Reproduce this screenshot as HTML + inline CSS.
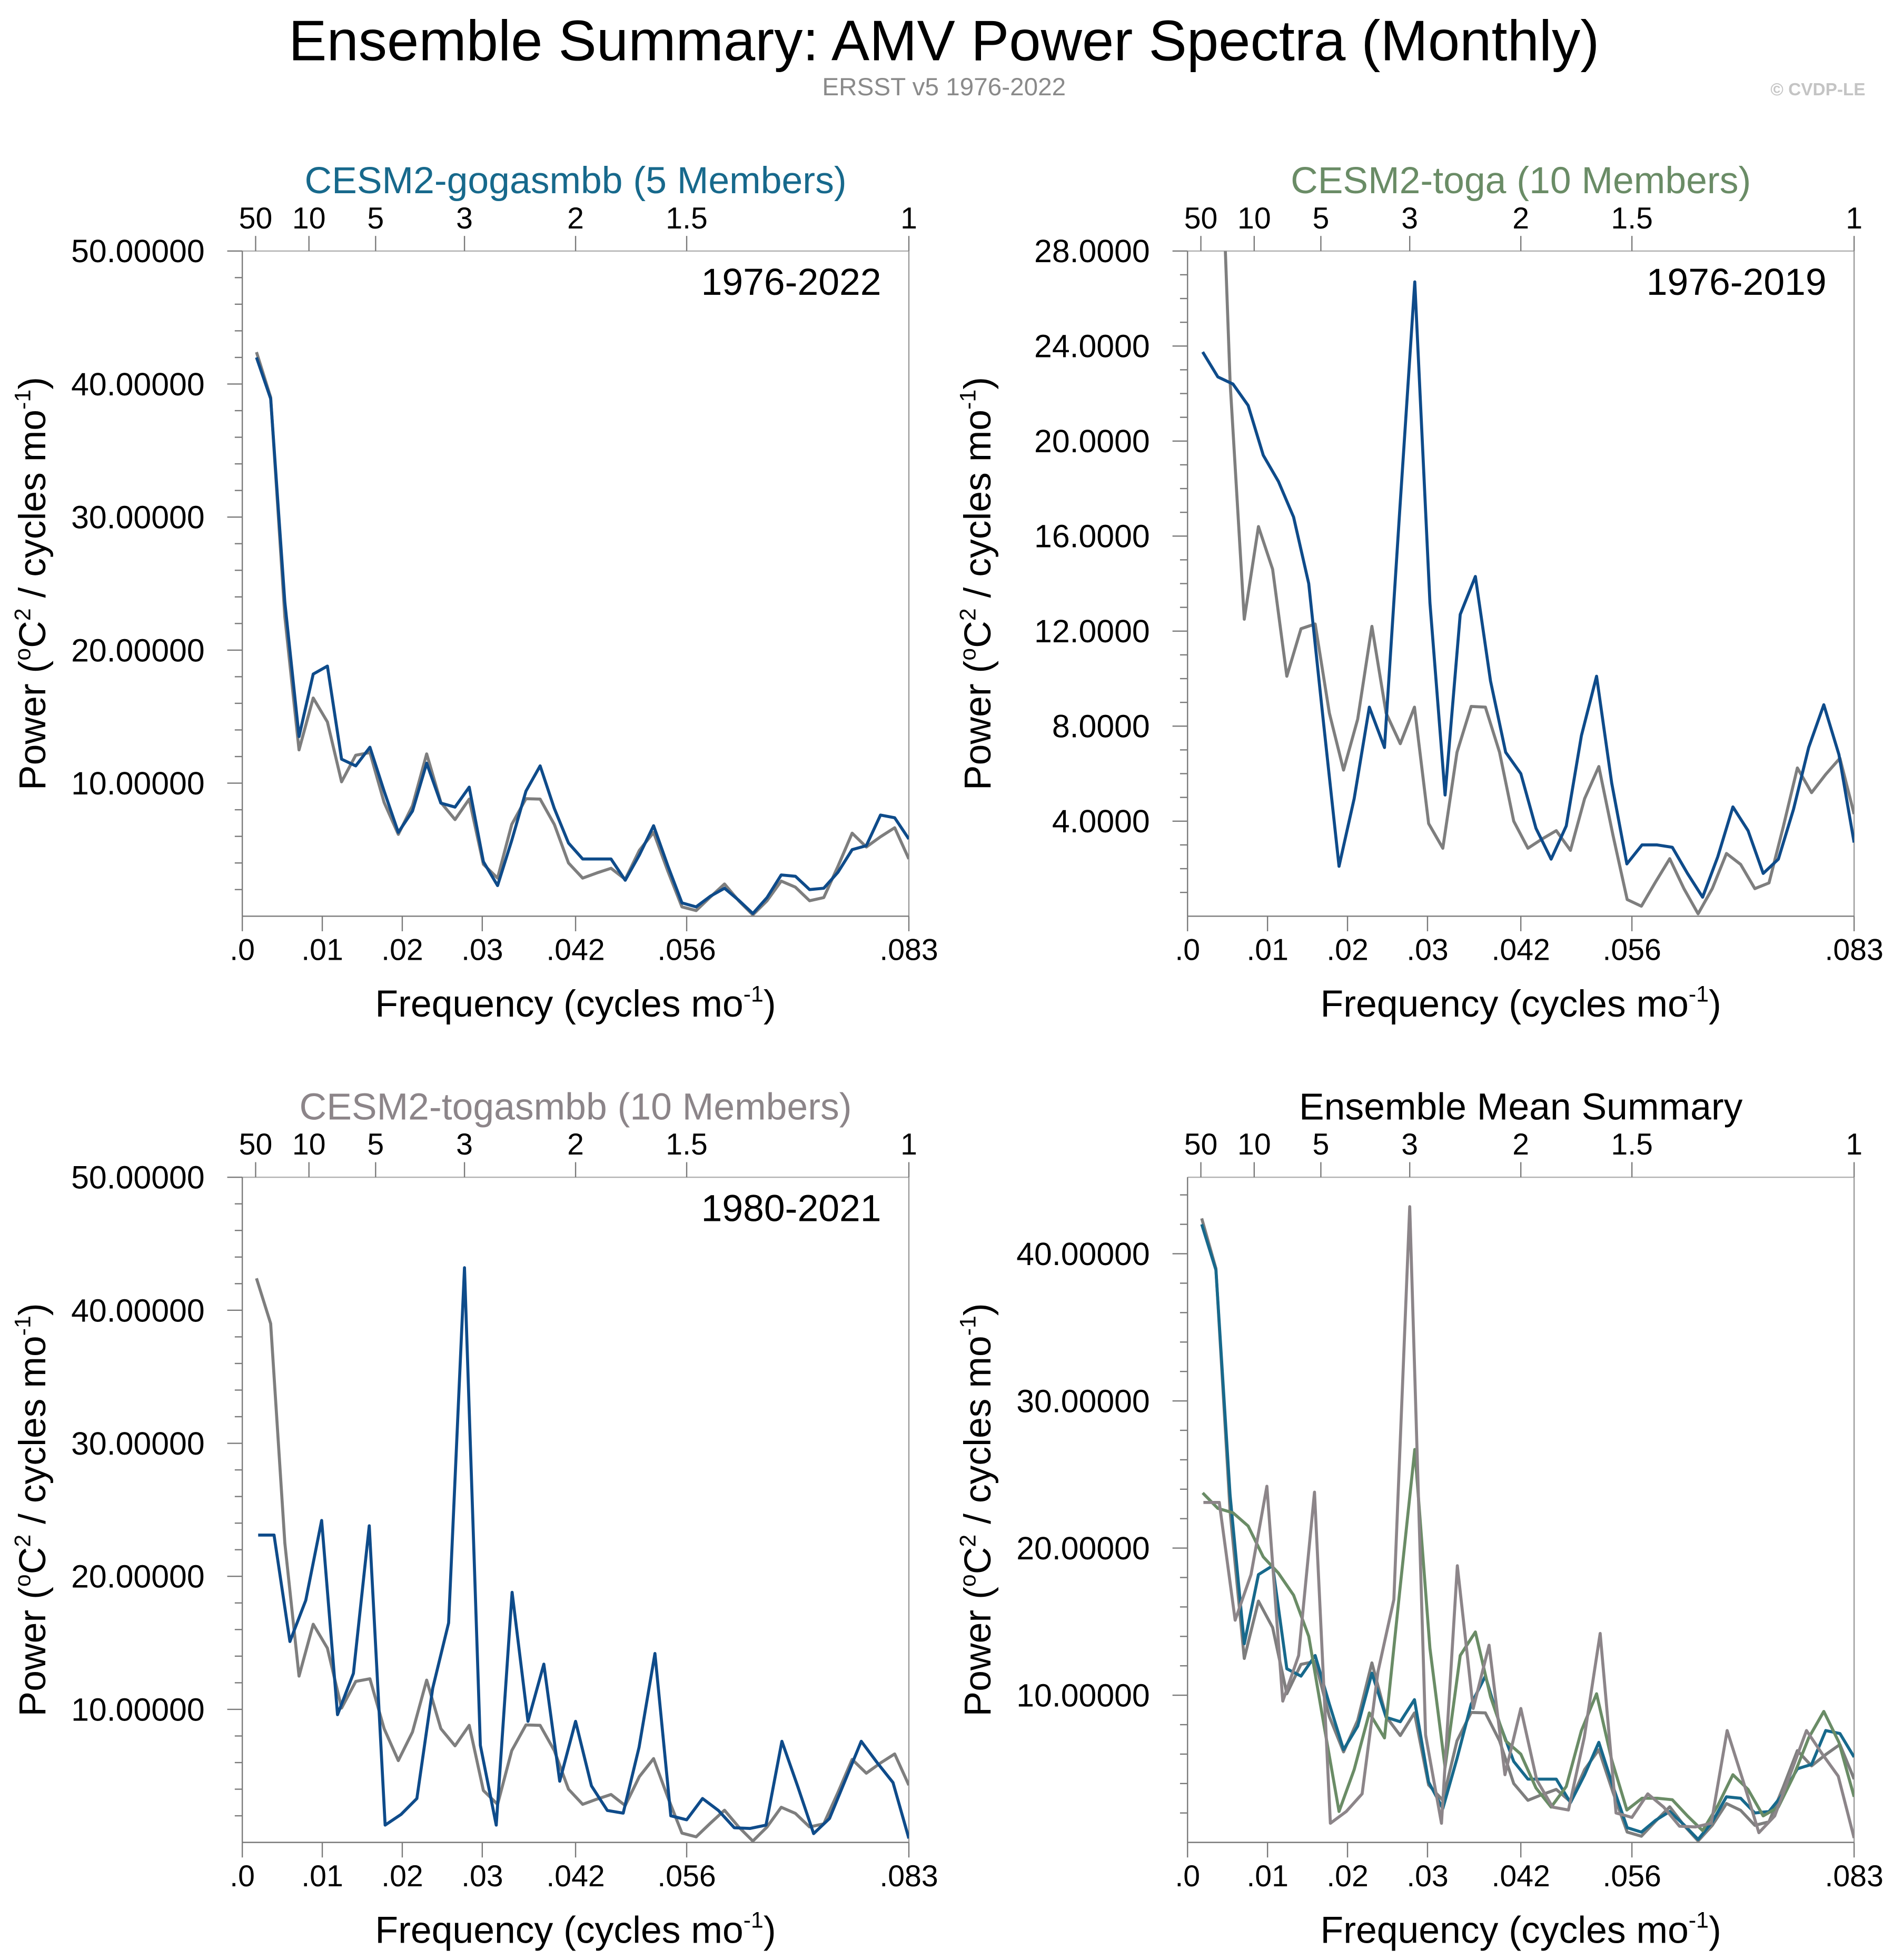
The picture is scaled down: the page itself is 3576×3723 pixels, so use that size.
<!DOCTYPE html>
<html><head><meta charset="utf-8"><title>AMV Power Spectra</title>
<style>
html,body{margin:0;padding:0;background:#fff;}
svg{display:block;font-family:"Liberation Sans",Arial,sans-serif;}
</style></head>
<body>
<svg id="fig" width="3576" height="3723" viewBox="0 0 1500 1561.7" xmlns="http://www.w3.org/2000/svg">
<rect x="0" y="0" width="1500" height="1561.7" fill="#fff"/>
<text x="752" y="48" font-size="45.5" text-anchor="middle" fill="#000">Ensemble Summary: AMV Power Spectra (Monthly)</text>
<text x="752" y="76" font-size="20" text-anchor="middle" fill="#8a8a8a">ERSST v5 1976-2022</text>
<text x="1486" y="76" font-size="14" font-weight="bold" text-anchor="end" fill="#c4c4c4">© CVDP-LE</text>
</svg>
<script>
// ---- data ----
const obsPower = [42.4,39.0,22.5,12.5,16.4,14.6,10.1,12.1,12.3,8.55,6.15,8.3,12.2,8.55,7.26,8.8,3.9,2.86,6.9,8.83,8.8,6.9,4.0,2.86,3.25,3.6,2.77,4.95,6.3,3.4,0.7,0.42,1.44,2.42,1.16,0.1,1.16,2.64,2.18,1.16,1.4,3.75,6.24,5.2,5.97,6.65,4.3];
const gogaPower = [42.0,38.9,23.6,13.5,18.2,18.8,11.8,11.3,12.7,9.4,6.3,7.9,11.5,8.5,8.2,9.7,4.1,2.3,5.7,9.4,11.3,8.1,5.5,4.3,4.3,4.3,2.7,4.6,6.8,3.8,1.0,0.7,1.5,2.1,1.2,0.2,1.4,3.1,3.0,2.0,2.1,3.3,5.0,5.3,7.6,7.4,5.8];
const togaPower = [23.75,22.7,22.4,21.5,19.4,18.3,16.8,14.0,8.0,2.1,4.95,8.8,7.1,17.0,26.7,13.2,5.1,12.7,14.3,9.9,6.9,6.0,3.7,2.4,3.8,7.6,10.1,5.6,2.2,3.0,3.0,2.9,1.8,0.8,2.5,4.6,3.6,1.8,2.4,4.5,7.1,8.9,6.8,3.1];
const togasmbbPower = [23.1,23.1,15.1,18.2,24.2,9.6,12.7,23.8,1.3,2.1,3.3,11.6,16.5,43.2,7.3,1.3,18.8,9.1,13.4,4.6,9.1,4.25,2.4,2.2,7.15,14.2,2.0,1.7,3.3,2.4,1.1,1.05,1.3,7.6,4.2,0.66,1.8,4.7,7.6,6.0,4.5,0.3];
const obsYears = 47, gogaYears = 47, togaYears = 44, togasmbbYears = 42;
const periodLabels = ["50","10","5","3","2","1.5","1"];
const periodYears = [50,10,5,3,2,1.5,1];
const freqTickLabels = [".0",".01",".02",".03",".042",".056",".083"];
const freqTickValues = [0,0.01,0.02,0.03,1/24,1/18,1/12];

const NS = "http://www.w3.org/2000/svg";
const svg = document.getElementById('fig');
const FMAX = 1/12;
function mk(tag, attrs, parent){
  const e = document.createElementNS(NS, tag);
  for (const k in attrs) e.setAttribute(k, attrs[k]);
  (parent||svg).appendChild(e);
  return e;
}
function freqs(n, years){ const a=[]; for(let i=1;i<=n;i++) a.push(i/(years*12)); return a; }

function panel(cfg){
  const {id,L,R,T,B,ymax,major,minor,fmt,title,titleColor,dateLabel,series} = cfg;
  const g = mk('g',{});
  
  
  const xS = f => L + (R-L)*f/FMAX;
  const yS = v => B - (B-T)*v/ymax;
  const cp = mk('clipPath',{id:id+'-clip'},g);
  mk('rect',{x:L,y:T,width:R-L,height:B-T},cp);
  const ax = mk('g',{},g);
  
  
  mk('line',{x1:L,y1:T,x2:R,y2:T,stroke:'#b0b0b0','stroke-width':1},ax);
  mk('line',{x1:R,y1:T,x2:R,y2:B,stroke:'#9a9a9a','stroke-width':1},ax);
  mk('line',{x1:L,y1:T,x2:L,y2:B,stroke:'#7a7a7a','stroke-width':1},ax);
  mk('line',{x1:L,y1:B,x2:R,y2:B,stroke:'#7a7a7a','stroke-width':1},ax);
  for (let v=minor; v<=ymax+1e-6; v+=minor){
    const isMajor = Math.abs(v/major - Math.round(v/major))<1e-6;
    const y = yS(v);
    mk('line',{x1:L-(isMajor?12:6),y1:y,x2:L,y2:y,stroke:'#7a7a7a','stroke-width':1},ax);
    if (isMajor){
      const t = mk('text',{x:L-30,y:y+9,'font-size':25.5,'text-anchor':'end',fill:'#000'},g);
      
      
      t.textContent = v.toFixed(fmt);
    }
  }
  freqTickValues.forEach((f,i)=>{
    const x = xS(f);
    mk('line',{x1:x,y1:B,x2:x,y2:B+12,stroke:'#7a7a7a','stroke-width':1},ax);
    const t = mk('text',{x:x,y:B+35,'font-size':24,'text-anchor':'middle',fill:'#000'},g);
    
    
    t.textContent = freqTickLabels[i];
  });
  periodYears.forEach((p,i)=>{
    const x = xS(1/(p*12));
    mk('line',{x1:x,y1:T,x2:x,y2:T-12,stroke:'#7a7a7a','stroke-width':1},ax);
    const t = mk('text',{x:x,y:T-18,'font-size':24,'text-anchor':'middle',fill:'#000'},g);
    
    
    t.textContent = periodLabels[i];
  });
  const tt = mk('text',{x:(L+R)/2,y:T-46,'font-size':30,'text-anchor':'middle',fill:titleColor},g);
  
  
  tt.textContent = title;
  if (dateLabel){
    const d = mk('text',{x:R-22,y:T+35,'font-size':30,'text-anchor':'end',fill:'#000'},g);
    
    
    d.textContent = dateLabel;
  }
  const xt = mk('text',{x:(L+R)/2,y:B+80,'font-size':30,'text-anchor':'middle',fill:'#000'},g);
  
  
  xt.innerHTML = 'Frequency (cycles mo<tspan dy="-12" font-size="18">-1</tspan><tspan dy="12">)</tspan>';
  const cy = (T+B)/2;
  const yt = mk('text',{x:0,y:0,'font-size':30,'text-anchor':'middle',fill:'#000',transform:`translate(${L-157},${cy}) rotate(-90)`},g);
  
  
  yt.innerHTML = 'Power (<tspan dy="-12" font-size="18">o</tspan><tspan dy="12">C</tspan><tspan dy="-12" font-size="18">2</tspan><tspan dy="12"> / cycles mo</tspan><tspan dy="-12" font-size="18">-1</tspan><tspan dy="12">)</tspan>';
  const sg = mk('g',{'clip-path':`url(#${id}-clip)`},g);
  series.forEach(s=>{
    const fr = freqs(s.values.length, s.years);
    const pts = s.values.map((v,i)=> xS(fr[i]).toFixed(2)+','+yS(v).toFixed(2)).join(' ');
    const pl = mk('polyline',{points:pts,fill:'none',stroke:s.color,'stroke-width':s.w||2.4,'stroke-linejoin':'round'},sg);
    
    
  });
}

const OBS = '#7e7e7e', NAVY = '#0e4b8a';
panel({id:'panel-gogasmbb',L:193,R:724,T:200,B:730,ymax:50,major:10,minor:2,fmt:5,
  title:'CESM2-gogasmbb (5 Members)',titleColor:'#17698c',dateLabel:'1976-2022',
  series:[{name:'obs',values:obsPower,years:obsYears,color:OBS},{name:'ensemble',values:gogaPower,years:gogaYears,color:NAVY}]});
panel({id:'panel-toga',L:946,R:1477,T:200,B:730,ymax:28,major:4,minor:1,fmt:4,
  title:'CESM2-toga (10 Members)',titleColor:'#6a8c66',dateLabel:'1976-2019',
  series:[{name:'obs',values:obsPower,years:obsYears,color:OBS},{name:'ensemble',values:togaPower,years:togaYears,color:NAVY}]});
panel({id:'panel-togasmbb',L:193,R:724,T:938,B:1468,ymax:50,major:10,minor:2,fmt:5,
  title:'CESM2-togasmbb (10 Members)',titleColor:'#8c8589',dateLabel:'1980-2021',
  series:[{name:'obs',values:obsPower,years:obsYears,color:OBS},{name:'ensemble',values:togasmbbPower,years:togasmbbYears,color:NAVY}]});
panel({id:'panel-summary',L:946,R:1477,T:938,B:1468,ymax:45.2,major:10,minor:2,fmt:5,
  title:'Ensemble Mean Summary',titleColor:'#000',dateLabel:null,
  series:[{name:'obs',values:obsPower,years:obsYears,color:OBS},
          {name:'gogasmbb',values:gogaPower,years:gogaYears,color:'#17698c'},
          {name:'toga',values:togaPower,years:togaYears,color:'#6a8c66'},
          {name:'togasmbb',values:togasmbbPower,years:togasmbbYears,color:'#8c8589'}]});
</script>
</body></html>
